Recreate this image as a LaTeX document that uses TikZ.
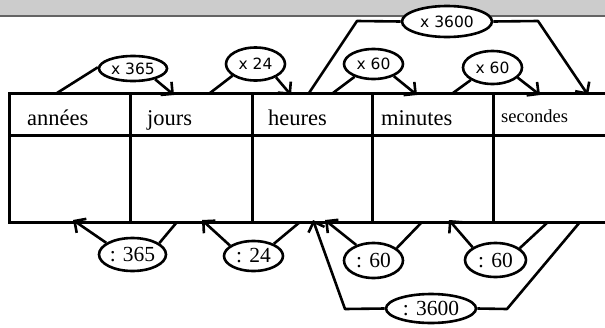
\documentclass[tikz,border=0pt]{standalone}
\usepackage{fontspec}
\setmainfont{Liberation Serif}
\newfontfamily\lblsans{DejaVu Sans}
\usetikzlibrary{arrows.meta,shapes.geometric}
\definecolor{bandgrey}{RGB}{204,204,204}
\definecolor{bandline}{RGB}{100,100,100}
\begin{document}
\begin{tikzpicture}[x=1pt,y=-1pt,
  tbl/.style={line width=3pt},
  conn/.style={line width=2.6pt},
  arr/.style={conn,-{Straight Barb[length=8.5pt,width=17pt]}},
  ovtop/.style={ellipse,draw,line width=2.6pt,fill=white,inner sep=0pt,font=\lblsans\fontsize{15.5}{15.5}\selectfont},
  ovbot/.style={ellipse,draw,line width=2.6pt,fill=white,inner sep=0pt,font=\fontsize{21.5}{21.5}\selectfont},
  head/.style={anchor=base west,inner sep=0pt,font=\fontsize{22.5}{22.5}\selectfont}]
\useasboundingbox (0,0) rectangle (605,327);
% grey band
\fill[bandgrey] (0,0) rectangle (605,16);
\draw[bandline,line width=1.8pt] (0,16) -- (605,16);
% table
\draw[tbl] (607,93) -- (9,93) -- (9,222) -- (607,222);
\draw[tbl] (9,135) -- (607,135);
\foreach \xx in {130,252,372,493} \draw[tbl] (\xx,93) -- (\xx,222);
\node[head] (hA) at (27,125) {années};
\node[head] (hJ) at (147,125) {jours};
\node[head] (hH) at (268,125) {heures};
\node[head] (hM) at (381,125) {minutes};
\node[head,font=\fontsize{18.5}{18.5}\selectfont] (hS) at (501,122) {secondes};
% table coordinates
\coordinate (a1) at (57,93);   \coordinate (a2) at (174,95);
\coordinate (b1) at (210,93);  \coordinate (b2) at (291,95);
\coordinate (c1) at (333,93);  \coordinate (c2) at (417,95);
\coordinate (d1) at (453,93);  \coordinate (d2) at (540,95);
\coordinate (e1) at (309,93);  \coordinate (e2) at (357,21);
\coordinate (e3) at (538,21);  \coordinate (e4) at (588,95);
\coordinate (f1) at (73,220);  \coordinate (f2) at (177,222);
\coordinate (g1) at (202,220); \coordinate (g2) at (300,222);
\coordinate (h1) at (325,220); \coordinate (h2) at (422,222);
\coordinate (i1) at (449,220); \coordinate (i2) at (548,222);
\coordinate (j1) at (313,220); \coordinate (j2) at (345,309);
\coordinate (j3) at (507,309); \coordinate (j4) at (580,222);
% top ellipses
\node[ovtop,minimum width=68pt,minimum height=25pt] (t365) at (133,68.5) {x 365};
\node[ovtop,minimum width=59pt,minimum height=33pt] (t24) at (255.5,64) {x 24};
\node[ovtop,minimum width=59pt,minimum height=30pt] (t60a) at (373.5,64) {x 60};
\node[ovtop,minimum width=59pt,minimum height=33pt] (t60b) at (492.5,67.5) {x 60};
\node[ovtop,minimum width=90pt,minimum height=31pt] (t3600) at (447,21.5) {x 3600};
% bottom ellipses
\node[ovbot,minimum width=67pt,minimum height=33pt] (b365) at (132.5,254.5) {: 365};
\node[ovbot,minimum width=59pt,minimum height=30pt] (b24) at (253.5,256) {: 24};
\node[ovbot,minimum width=59pt,minimum height=35pt] (b60a) at (373.5,260.5) {: 60};
\node[ovbot,minimum width=61pt,minimum height=34pt] (b60b) at (495.5,260) {: 60};
\node[ovbot,minimum width=90pt,minimum height=29pt] (b3600) at (431,308.5) {: 3600};
% top connectors
\draw[conn] (a1) -- (t365.178);
\draw[arr] (t365.-26) -- (a2);
\draw[conn] (b1) -- (t24.207);
\draw[arr] (t24.-33) -- (b2);
\draw[conn] (c1) -- (t60a.214);
\draw[arr] (t60a.-31) -- (c2);
\draw[conn] (d1) -- (t60b.210);
\draw[arr] (t60b.-22) -- (d2);
\draw[conn,line join=round] (e1) -- (e2) -- (t3600.180);
\draw[arr,line join=round] (t3600.0) -- (e3) -- (e4);
% bottom connectors
\draw[arr] (b365.156) -- (f1);
\draw[conn] (b365.23) -- (f2);
\draw[arr] (b24.156) -- (g1);
\draw[conn] (b24.31) -- (g2);
\draw[arr] (b60a.138) -- (h1);
\draw[conn] (b60a.28) -- (h2);
\draw[arr] (b60b.151) -- (i1);
\draw[conn] (b60b.26) -- (i2);
\draw[arr,line join=round] (b3600.180) -- (j2) -- (j1);
\draw[conn,line join=round] (b3600.0) -- (j3) -- (j4);
\end{tikzpicture}
\end{document}
